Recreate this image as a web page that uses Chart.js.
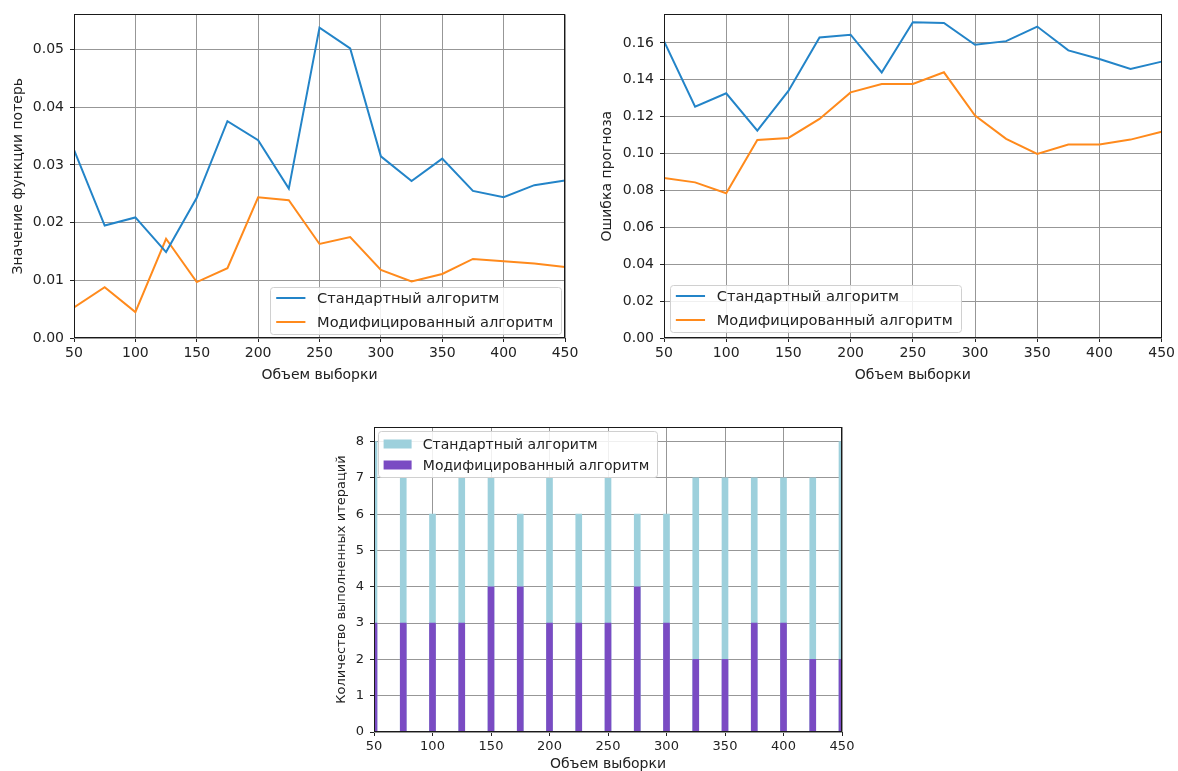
<!DOCTYPE html>
<html lang="ru">
<head>
<meta charset="utf-8">
<title>Сравнение алгоритмов</title>
<script src="https://cdn.jsdelivr.net/npm/chart.js@4.4.1/dist/chart.umd.min.js"></script>
<style>
    html, body { margin: 0; padding: 0; background: #fff; overflow: hidden; }
    body { width: 1178px; height: 771px; position: relative; }
    .panel { position: absolute; }
    #lossWrap  { left: 0;     top: 0; }
    #errorWrap { left: 590px; top: 0; }
    #iterWrap  { left: 300px; top: 400px; }
</style>
</head>
<body>
<div class="panel" id="lossWrap"><canvas id="lossChart" width="590" height="395"></canvas></div>
<div class="panel" id="errorWrap"><canvas id="errorChart" width="588" height="395"></canvas></div>
<div class="panel" id="iterWrap"><canvas id="iterChart" width="578" height="395"></canvas></div>

<script>
// --- Data ---
const sampleSizes = [50, 75, 100, 125, 150, 175, 200, 225, 250, 275, 300, 325, 350, 375, 400, 425, 450];
const sizeTicks = [50, 100, 150, 200, 250, 300, 350, 400, 450];

const lossStandard = [0.0326, 0.0195, 0.0209, 0.0149, 0.0243, 0.0376, 0.0343, 0.0259, 0.0538, 0.0502, 0.0315, 0.0272, 0.0311, 0.0255, 0.0244, 0.0265, 0.0273];
const lossModified = [0.0053, 0.0088, 0.0045, 0.0172, 0.0097, 0.0121, 0.0244, 0.0239, 0.0163, 0.0175, 0.0118, 0.0098, 0.0111, 0.0137, 0.0133, 0.0129, 0.0123];
const lossTicks = [0, 0.01, 0.02, 0.03, 0.04, 0.05];

const errorStandard = [0.161, 0.1255, 0.1327, 0.1125, 0.134, 0.163, 0.1645, 0.144, 0.1712, 0.1709, 0.159, 0.161, 0.1689, 0.156, 0.1513, 0.1459, 0.1499];
const errorModified = [0.0868, 0.0844, 0.0785, 0.1074, 0.1085, 0.1188, 0.1332, 0.1378, 0.1378, 0.1441, 0.1206, 0.108, 0.0998, 0.1049, 0.1049, 0.1076, 0.1119];
const errorTicks = [0, 0.02, 0.04, 0.06, 0.08, 0.10, 0.12, 0.14, 0.16];

const iterStandard = [8, 7, 6, 7, 7, 6, 7, 6, 7, 6, 6, 7, 7, 7, 7, 7, 8];
const iterModified = [3, 3, 3, 3, 4, 4, 3, 3, 3, 4, 3, 2, 2, 3, 3, 2, 2];
const iterTicks = [0, 1, 2, 3, 4, 5, 6, 7, 8];

const labelStandard = 'Стандартный алгоритм';
const labelModified = 'Модифицированный алгоритм';
const labelSize = 'Объем выборки';

document.addEventListener('DOMContentLoaded', () => {

    const FONT = "'DejaVu Sans', sans-serif";
    const TEXT = '#222';
    const GRID = '#979797';

    const points = (ys) => sampleSizes.map((x, i) => ({ x: x, y: ys[i] }));

    // box round the plot area, like the matplotlib spines
    const framePlugin = {
        id: 'frame',
        afterDatasetsDraw(chart) {
            const { ctx, chartArea: a } = chart;
            ctx.save();
            ctx.strokeStyle = '#1a1a1a';
            ctx.lineWidth = 1;
            ctx.strokeRect(Math.round(a.left) + 0.5, Math.round(a.top) + 0.5,
                Math.round(a.width) - 1, Math.round(a.height) - 1);
            ctx.restore();
        }
    };

    // legend drawn inside the plot area
    const boxLegend = {
        id: 'boxLegend',
        afterDraw(chart, args, opts) {
            const { ctx, chartArea: a } = chart;
            const size = opts.fontSize;
            const handle = 2 * size;
            const pad = 0.4 * size;
            const gap = 0.8 * size;
            const items = chart.data.datasets.slice().sort((p, q) => p.legendIndex - q.legendIndex);

            ctx.save();
            ctx.font = size + 'px ' + FONT;
            const textW = Math.max(...items.map(d => ctx.measureText(d.label).width));
            const w = pad + handle + gap + textW + pad + 2;
            const h = opts.height;

            let x, y;
            if (opts.loc === 'lower right') { x = a.right - opts.inset - w; y = a.bottom - opts.inset - h; }
            else if (opts.loc === 'lower left') { x = a.left + opts.inset; y = a.bottom - opts.inset - h; }
            else { x = a.left + opts.inset; y = a.top + opts.inset; }

            ctx.fillStyle = 'rgba(255,255,255,0.85)';
            ctx.strokeStyle = '#d0d0d0';
            ctx.lineWidth = 1;
            ctx.beginPath();
            ctx.roundRect(Math.round(x) + 0.5, Math.round(y) + 0.5, Math.round(w), Math.round(h), 3);
            ctx.fill();
            ctx.stroke();

            ctx.textBaseline = 'middle';
            items.forEach((d, i) => {
                const cy = Math.round(y + opts.firstRow + opts.rowHeight * i);
                const hx = x + pad;
                if (opts.kind === 'patch') {
                    ctx.fillStyle = d.backgroundColor;
                    ctx.fillRect(hx, cy - 4.5, handle, 9);
                } else {
                    ctx.strokeStyle = d.borderColor;
                    ctx.lineWidth = 2;
                    ctx.beginPath();
                    ctx.moveTo(hx, cy);
                    ctx.lineTo(hx + handle, cy);
                    ctx.stroke();
                }
                ctx.fillStyle = TEXT;
                ctx.fillText(d.label, hx + handle + gap, cy + 1);
            });
            ctx.restore();
        }
    };

    function xAxis(fontSize, height, titlePad) {
        return {
            type: 'linear',
            min: 50,
            max: 450,
            offset: false,
            afterBuildTicks: s => { s.ticks = sizeTicks.map(v => ({ value: v })); },
            afterFit: s => { s.height = height; },
            grid: { offset: false, color: GRID, lineWidth: 1, tickLength: 4, tickColor: '#222' },
            border: { display: false },
            ticks: { color: TEXT, padding: 3, maxRotation: 0, font: { family: FONT, size: fontSize } },
            title: {
                display: true,
                text: labelSize,
                color: TEXT,
                padding: { top: 0, bottom: titlePad },
                font: { family: FONT, size: 14 }
            }
        };
    }

    function yAxis(max, tickValues, digits, fontSize, titleText, titlePad) {
        return {
            type: 'linear',
            min: 0,
            max: max,
            afterBuildTicks: s => { s.ticks = tickValues.map(v => ({ value: v })); },
            afterFit: s => { s.width = 74; },
            grid: { color: GRID, lineWidth: 1, tickLength: 4, tickColor: '#222' },
            border: { display: false },
            ticks: {
                color: TEXT,
                padding: 6,
                font: { family: FONT, size: fontSize },
                callback: v => v.toFixed(digits)
            },
            title: {
                display: true,
                text: titleText,
                color: TEXT,
                padding: { top: titlePad, bottom: 0 },
                font: { family: FONT, size: fontSize }
            }
        };
    }

    function lineSet(label, ys, color, idx) {
        return {
            label: label,
            data: points(ys),
            borderColor: color,
            backgroundColor: color,
            borderWidth: 2,
            pointRadius: 0,
            tension: 0,
            legendIndex: idx
        };
    }

    const BLUE = '#2384c8';
    const ORANGE = '#ff8a1c';

    // --- Loss chart ---
    new Chart(document.getElementById('lossChart').getContext('2d'), {
        type: 'line',
        data: {
            datasets: [
                lineSet(labelStandard, lossStandard, BLUE, 0),
                lineSet(labelModified, lossModified, ORANGE, 1)
            ]
        },
        options: {
            responsive: false,
            animation: false,
            layout: { padding: { top: 13, right: 25, left: 0, bottom: 0 } },
            scales: {
                x: xAxis(14, 57, 11),
                y: yAxis(0.0561, lossTicks, 2, 14, 'Значение функции потерь', 10)
            },
            plugins: {
                legend: { display: false },
                tooltip: { enabled: false },
                boxLegend: { loc: 'lower right', inset: 4, fontSize: 14.6, height: 47, firstRow: 10.5, rowHeight: 24, kind: 'line' }
            }
        },
        plugins: [framePlugin, boxLegend]
    });

    // --- Forecast error chart ---
    new Chart(document.getElementById('errorChart').getContext('2d'), {
        type: 'line',
        data: {
            datasets: [
                lineSet(labelStandard, errorStandard, BLUE, 0),
                lineSet(labelModified, errorModified, ORANGE, 1)
            ]
        },
        options: {
            responsive: false,
            animation: false,
            layout: { padding: { top: 13, right: 16, left: 0, bottom: 0 } },
            scales: {
                x: xAxis(14, 57, 11),
                y: yAxis(0.1755, errorTicks, 2, 14, 'Ошибка прогноза', 9)
            },
            plugins: {
                legend: { display: false },
                tooltip: { enabled: false },
                boxLegend: { loc: 'lower left', inset: 6, fontSize: 14.6, height: 47, firstRow: 10.5, rowHeight: 24, kind: 'line' }
            }
        },
        plugins: [framePlugin, boxLegend]
    });

    // --- Iterations chart ---
    new Chart(document.getElementById('iterChart').getContext('2d'), {
        type: 'bar',
        data: {
            datasets: [
                {
                    label: labelStandard,
                    data: points(iterStandard),
                    backgroundColor: '#9dd0dc',
                    barThickness: 6,
                    grouped: false,
                    order: 1,
                    legendIndex: 0
                },
                {
                    label: labelModified,
                    data: points(iterModified),
                    backgroundColor: '#7a4bc3',
                    barThickness: 6,
                    grouped: false,
                    order: 0,
                    legendIndex: 1
                }
            ]
        },
        options: {
            responsive: false,
            animation: false,
            layout: { padding: { top: 27, right: 36, left: 0, bottom: 0 } },
            scales: {
                x: xAxis(13, 63, 22),
                y: yAxis(8.4, iterTicks, 0, 13, 'Количество выполненных итераций', 34)
            },
            plugins: {
                legend: { display: false },
                tooltip: { enabled: false },
                boxLegend: { loc: 'upper left', inset: 4, fontSize: 14, height: 46, firstRow: 13, rowHeight: 21, kind: 'patch' }
            }
        },
        plugins: [framePlugin, boxLegend]
    });

});
</script>
</body>
</html>
